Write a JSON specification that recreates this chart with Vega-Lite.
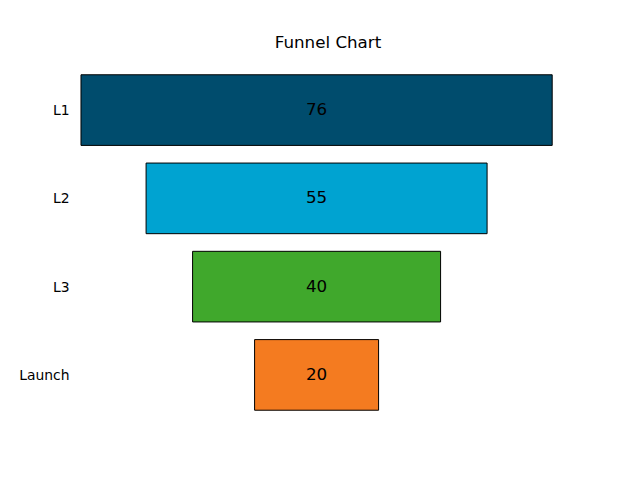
{
  "$schema": "https://vega.github.io/schema/vega-lite/v6.json",
  "width": 496,
  "height": 369,
  "autosize": {"type": "none"},
  "padding": {"left": 80, "top": 58, "right": 64, "bottom": 53},
  "background": "white",
  "config": {"view": {"stroke": null}, "font": "DejaVu Sans"},
  "title": {"text": "Funnel Chart", "fontSize": 16.7, "fontWeight": "normal", "color": "black", "font": "DejaVu Sans", "offset": 6, "anchor": "middle"},
  "data": {"values": [
    {"stage": "L1", "value": 76},
    {"stage": "L2", "value": 55},
    {"stage": "L3", "value": 40},
    {"stage": "Launch", "value": 20}
  ]},
  "encoding": {
    "y": {"field": "stage", "type": "nominal", "sort": ["L1", "L2", "L3", "Launch"],
      "scale": {"paddingInner": 0.2, "paddingOuter": 0.19},
      "axis": {"title": null, "ticks": false, "domain": false, "labelPadding": 11, "labelOffset": 1, "labelFontSize": 13.9, "labelColor": "black", "labelFont": "DejaVu Sans"}}
  },
  "layer": [
    {
      "mark": {"type": "bar", "stroke": "black", "strokeWidth": 1},
      "encoding": {
        "x": {"field": "value", "type": "quantitative", "stack": "center", "scale": {"domain": [-0.16, 79.84], "nice": false, "zero": false}, "axis": null},
        "color": {"field": "stage", "type": "nominal", "legend": null,
          "scale": {"domain": ["L1", "L2", "L3", "Launch"], "range": ["#004c6d", "#00a3d1", "#40a82c", "#f47b20"]}}
      }
    },
    {
      "mark": {"type": "text", "fontSize": 16.7, "color": "black", "font": "DejaVu Sans", "align": "center", "baseline": "middle"},
      "encoding": {
        "x": {"datum": 38, "type": "quantitative"},
        "text": {"field": "value", "type": "quantitative"}
      }
    }
  ]
}
